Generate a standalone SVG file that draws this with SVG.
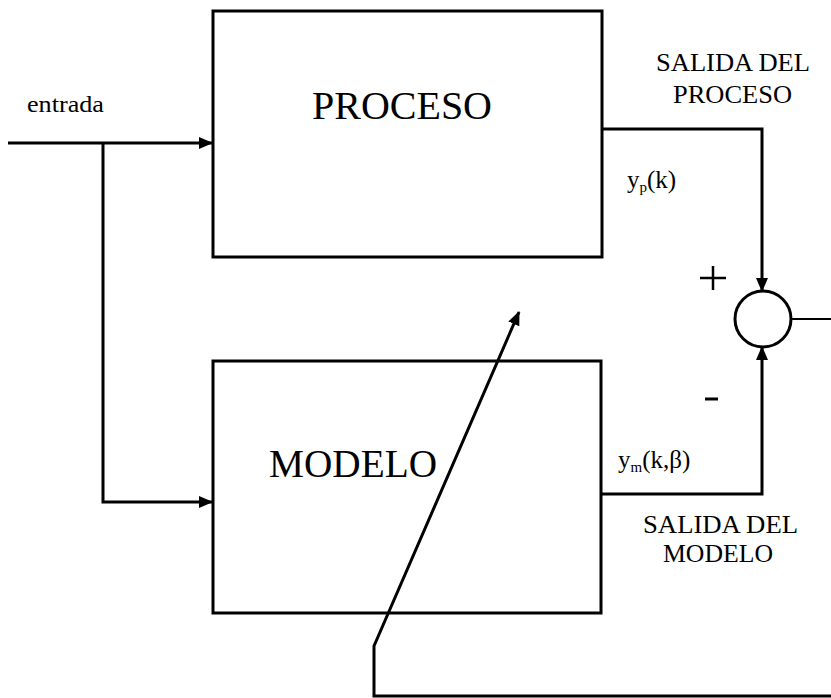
<svg xmlns="http://www.w3.org/2000/svg" width="831" height="698" viewBox="0 0 831 698">
<style>
.box{fill:none;stroke:#000;stroke-width:3}
.ln{fill:none;stroke:#000;stroke-width:3}
.t{font-family:"Liberation Serif","Times New Roman",serif;fill:#000}
</style>
<defs>
<marker id="ah" markerWidth="14" markerHeight="12" refX="13" refY="6" orient="auto" markerUnits="userSpaceOnUse">
<path d="M0,0 L14,6 L0,12 Z" fill="#000"/>
</marker>
</defs>
<rect width="831" height="698" fill="#fff"/>
<g id="proceso">
<rect class="box" x="213" y="11" width="389" height="246"/>
<text class="t" x="312" y="119" font-size="39" textLength="180" lengthAdjust="spacingAndGlyphs">PROCESO</text>
</g>
<g id="modelo">
<rect class="box" x="213" y="361" width="388" height="252"/>
<text class="t" x="269" y="477" font-size="39" textLength="168" lengthAdjust="spacingAndGlyphs">MODELO</text>
</g>
<g id="sumador">
<circle cx="763" cy="319" r="28" fill="none" stroke="#000" stroke-width="3"/>
</g>
<g id="connectors">
<path class="ln" d="M8,143 H212" marker-end="url(#ah)"/>
<path class="ln" d="M103,143 V502 H212" marker-end="url(#ah)"/>
<path class="ln" d="M602,129 H762 V291" marker-end="url(#ah)"/>
<path class="ln" d="M602,494 H762 V347" marker-end="url(#ah)"/>
<path d="M791,319 H831" stroke="#000" stroke-width="2" fill="none"/>
<path class="ln" d="M831,696 H374 V646 L519,312" marker-end="url(#ah)"/>
</g>
<g id="labels">
<text class="t" x="27" y="112" font-size="23" textLength="77" lengthAdjust="spacingAndGlyphs">entrada</text>
<text class="t" x="656" y="71" font-size="26" textLength="154" lengthAdjust="spacingAndGlyphs">SALIDA DEL</text>
<text class="t" x="673" y="103" font-size="26" textLength="119" lengthAdjust="spacingAndGlyphs">PROCESO</text>
<text class="t" x="627" y="188" font-size="25">y<tspan font-size="15" dy="4">p</tspan><tspan dy="-4">(k)</tspan></text>
<text class="t" x="618" y="468" font-size="25">y<tspan font-size="15" dy="4">m</tspan><tspan dy="-4">(k,β)</tspan></text>
<text class="t" x="643" y="533" font-size="26" textLength="155" lengthAdjust="spacingAndGlyphs">SALIDA DEL</text>
<text class="t" x="663" y="562" font-size="26" textLength="110" lengthAdjust="spacingAndGlyphs">MODELO</text>
<path d="M700,278 H726 M713,266 V290" stroke="#000" stroke-width="2.5" fill="none"/>
<path d="M705,399 H718" stroke="#000" stroke-width="3" fill="none"/>
</g>
</svg>
